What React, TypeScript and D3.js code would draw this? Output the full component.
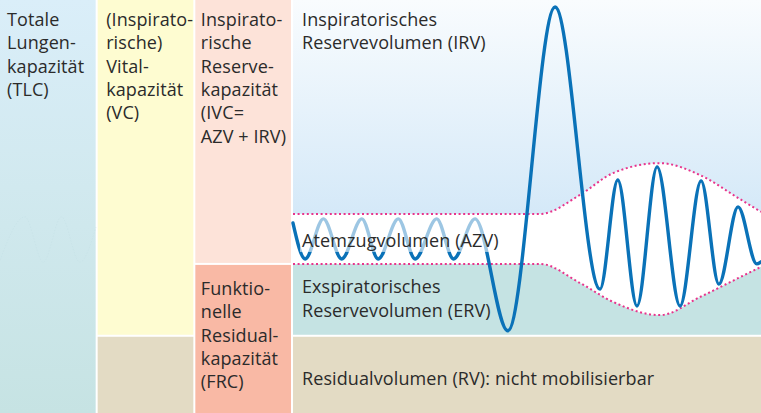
import React from 'react';
import * as d3 from 'd3';

const W = 761;
const H = 413;

// Label columns (categorical)
const columns = ['TLC', 'VC', 'IVC'];
const tlcLines = ['Totale', 'Lungen-', 'kapazität', '(TLC)'];
const vcLines = ['(Inspirato-', 'rische)', 'Vital-', 'kapazität', '(VC)'];
const ivcLines = ['Inspirato-', 'rische', 'Reserve-', 'kapazität', '(IVC=', 'AZV + IRV)'];
const frcLines = ['Funktio-', 'nelle', 'Residual-', 'kapazität', '(FRC)'];
const irvLines = ['Inspiratorisches', 'Reservevolumen (IRV)'];
const azvLines = ['Atemzugvolumen (AZV)'];
const ervLines = ['Exspiratorisches', 'Reservevolumen (ERV)'];
const rvLines = ['Residualvolumen (RV): nicht mobilisierbar'];

// Volume levels (% of TLC)
const levelRV = 18.7;
const levelFRC = 36.1;

// Spirogram: time (% of width) and volume (% of TLC) at turning points
const spiroT = [0, 2.6, 6.5, 10.4, 14.7, 18.2, 22.5, 26.1, 30.7, 34.3, 38.9, 45.9, 56.0, 65.6, 69.4, 73.5, 77.8, 82.7, 87.2, 91.0, 95.1, 99.1, 100];
const spiroV = [46.0, 37.3, 47.0, 37.3, 47.0, 37.3, 47.0, 37.3, 47.0, 37.3, 47.0, 19.9, 98.3, 30.0, 56.4, 25.9, 59.6, 25.9, 56.2, 31.2, 49.9, 36.1, 36.6];

// Tidal envelope (dotted)
const envT = [0, 52.8, 61.3, 68.4, 78.4, 87.0, 95.2, 100];
const envUpperV = [48.2, 48.2, 52.8, 58.1, 60.5, 57.6, 52.0, 48.7];
const envLowerV = [36.1, 36.1, 31.5, 26.9, 23.7, 28.1, 32.7, 35.4];

// faint ghost wave in TLC column (time % of column, volume %)
const ghostT = [0, 26, 45, 64, 83, 100];
const ghostV = [37, 47.5, 36.5, 47.5, 36.5, 45];

const FONT = "'Open Sans', sans-serif";
const FS = 18;
const LH = 23.3;
const TEXT = '#2b2b2b';

export default function App() {
  const band = d3.scaleBand<string>().domain(columns).range([0, 293]).paddingInner(0);
  const x = d3.scaleLinear().domain([0, 100]).range([293, W]);
  const y = d3.scaleLinear().domain([0, 100]).range([H, 0]);
  const gx = d3.scaleLinear().domain([0, 100]).range([0, 96]);

  const spiro = spiroT.map((t, i) => ({ t, v: spiroV[i] }));
  const env = envT.map((t, i) => ({ t, u: envUpperV[i], l: envLowerV[i] }));
  const ghost = ghostT.map((t, i) => ({ t, v: ghostV[i] }));

  const line = d3.line<{ t: number; v: number }>().x(d => x(d.t)).y(d => y(d.v)).curve(d3.curveMonotoneX);
  const ghostLine = d3.line<{ t: number; v: number }>().x(d => gx(d.t)).y(d => y(d.v)).curve(d3.curveMonotoneX);
  const area = d3.area<{ t: number; u: number; l: number }>().x(d => x(d.t)).y0(d => y(d.l)).y1(d => y(d.u)).curve(d3.curveMonotoneX);
  const upper = d3.line<{ t: number; u: number; l: number }>().x(d => x(d.t)).y(d => y(d.u)).curve(d3.curveMonotoneX);
  const lower = d3.line<{ t: number; u: number; l: number }>().x(d => x(d.t)).y(d => y(d.l)).curve(d3.curveMonotoneX);

  const bw = band.bandwidth();
  const colX = (c: string) => band(c) as number;
  const yRV = y(levelRV);
  const yFRC = y(levelFRC);

  const lines = (arr: string[], tx: number, ty: number) =>
    arr.map((s, i) => (
      <text key={s + i} x={tx} y={ty + i * LH} fontFamily={FONT} fontSize={FS} fill={TEXT} letterSpacing={0.1}>
        {s}
      </text>
    ));

  const x0 = x(0);

  return (
    <svg width={W} height={H} style={{ position: 'fixed', left: 0, top: 0 }}>
      <defs>
        <linearGradient id="tlcGrad" x1="0" y1="0" x2="0" y2={H} gradientUnits="userSpaceOnUse">
          <stop offset="0" stopColor="#daeef9" />
          <stop offset="1" stopColor="#c6e3e3" />
        </linearGradient>
        <linearGradient id="irvGrad" x1="0" y1="0" x2="0" y2={yFRC} gradientUnits="userSpaceOnUse">
          <stop offset="0" stopColor="#f9fcfe" />
          <stop offset="0.8" stopColor="#d5e9f8" />
          <stop offset="1" stopColor="#d5e9f8" />
        </linearGradient>
      </defs>
      <rect x={0} y={0} width={W} height={H} fill="#ffffff" />

      {/* TLC column */}
      <rect x={colX('TLC')} y={0} width={bw - 2} height={H} fill="url(#tlcGrad)" />
      <path d={ghostLine(ghost) || ''} fill="none" stroke="#c4e0e6" strokeWidth={1} strokeDasharray="1.5,1.5" opacity={0.55} />

      {/* VC column */}
      <rect x={colX('VC')} y={0} width={bw - 2} height={yRV - 1} fill="#fefcd1" />
      <rect x={colX('VC')} y={yRV + 1} width={bw - 2} height={H - yRV - 1} fill="#e3dbc4" />

      {/* IVC / FRC column */}
      <rect x={colX('IVC')} y={0} width={bw - 2} height={yFRC - 1} fill="#fde3d9" />
      <rect x={colX('IVC')} y={yFRC + 1} width={bw - 2} height={H - yFRC - 1} fill="#f9b9a5" />

      {/* Main area */}
      <rect x={x0} y={0} width={W - x0} height={yFRC} fill="url(#irvGrad)" />
      <rect x={x0} y={yFRC} width={W - x0} height={yRV - 1 - yFRC} fill="#c5e3e3" />
      <rect x={x0} y={yRV + 1} width={W - x0} height={H - yRV - 1} fill="#e3dbc4" />
      <path d={area(env) || ''} fill="#ffffff" />
      <path d={upper(env) || ''} fill="none" stroke="#e8348c" strokeWidth={2} strokeDasharray="2,2.6" />
      <path d={lower(env) || ''} fill="none" stroke="#e8348c" strokeWidth={2} strokeDasharray="2,2.6" />

      {/* Spirogram */}
      <path d={line(spiro) || ''} fill="none" stroke="#0a72b8" strokeWidth={3.4} strokeLinejoin="round" strokeLinecap="round" />

      {/* translucent backdrop of tidal volume label */}
      <rect x={x0 + 7} y={y(48.2) + 2} width={207} height={36} fill="#ffffff" opacity={0.6} />

      {/* Labels */}
      {lines(tlcLines, colX('TLC') + 7, 26)}
      {lines(vcLines, colX('VC') + 8.5, 26)}
      {lines(ivcLines, colX('IVC') + 5.5, 26)}
      {lines(frcLines, colX('IVC') + 5.5, 295)}
      {lines(irvLines, x0 + 9, 26)}
      {lines(azvLines, x0 + 9, 246.7)}
      {lines(ervLines, x0 + 9, 293.3)}
      {lines(rvLines, x0 + 9, 385)}
    </svg>
  );
}
